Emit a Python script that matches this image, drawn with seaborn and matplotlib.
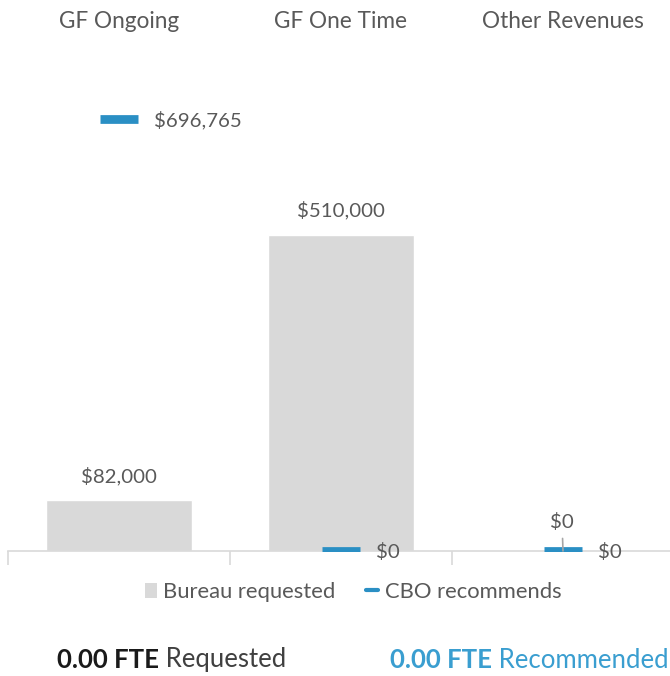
import matplotlib
matplotlib.use("Agg")
import matplotlib.pyplot as plt
from matplotlib.patches import Patch
from matplotlib.lines import Line2D
from matplotlib.transforms import blended_transform_factory
import seaborn as sns
import pandas as pd

categories = ["GF Ongoing", "GF One Time", "Other Revenues"]
bureau_requested = [82000, 510000, 0]
cbo_recommends = [696765, 0, 0]
fte_requested = "0.00"
fte_recommended = "0.00"

GRAY_BAR = "#D9D9D9"
BLUE = "#2A8FC4"
BLUE_TXT = "#3A9ED0"
TXT = "#595959"

sns.set_theme(style="white")
plt.rcParams["font.family"] = ["Lato", "DejaVu Sans"]

df = pd.DataFrame({"category": categories,
                   "bureau": bureau_requested,
                   "cbo": cbo_recommends})

fig = plt.figure(figsize=(6.7, 6.76), dpi=100)
ax = fig.add_axes([8/670, 125/676, 666/670, 491/676])

sns.barplot(data=df, x="category", y="bureau", color=GRAY_BAR, width=0.66,
            saturation=1, ax=ax, order=categories)
sns.scatterplot(data=df, x="category", y="cbo", marker="_", s=27.5**2,
                linewidth=6.3, color=BLUE, ax=ax, zorder=5, legend=False)

ax.set_xlim(-0.5, 2.5)
ax.set_ylim(0, 792000)
for s in ["top", "right", "left"]:
    ax.spines[s].set_visible(False)
ax.spines["bottom"].set_color(GRAY_BAR)
ax.spines["bottom"].set_linewidth(1.2)
ax.set_yticks([])
ax.set_xticks([])
ax.set_xticks([-0.5, 0.5, 1.5, 2.5], minor=True)
ax.tick_params(axis="x", which="minor", length=10, width=1.2, color=GRAY_BAR,
               bottom=True, labelbottom=False)
ax.set_xlabel("")
ax.set_ylabel("")

# category labels at top
tr = blended_transform_factory(ax.transData, fig.transFigure)
for i, c in enumerate(categories):
    fig.text(0, 0, c, transform=tr, fontsize=16.3, color=TXT,
             ha="center", va="center").set_position((i, 1 - 21/676))

def money(v):
    return "${:,.0f}".format(v)

VFS = 14.7
# bureau labels
for i, v in enumerate(bureau_requested):
    if v > 0:
        ax.annotate(money(v), (i, v), xytext=(0, 15), textcoords="offset pixels",
                    ha="center", va="bottom", fontsize=VFS, color=TXT)
    else:
        ax.annotate(money(v), (i, v), xytext=(-1, 20), textcoords="offset pixels",
                    ha="center", va="bottom", fontsize=VFS, color=TXT, zorder=7,
                    arrowprops=dict(arrowstyle="-", color="#A6A6A6", lw=1.2,
                                    shrinkA=3, shrinkB=0))

# cbo labels
for i, v in enumerate(cbo_recommends):
    ax.annotate(money(v), (i, v), xytext=(35, -1), textcoords="offset pixels",
                ha="left", va="center", fontsize=VFS, color=TXT)

# legend
handles = [Patch(facecolor=GRAY_BAR, edgecolor="none", label="Bureau requested"),
           Line2D([0], [0], color=BLUE, lw=3, label="CBO recommends")]
leg = fig.legend(handles=handles, loc="center", bbox_to_anchor=(353/670, 1 - 592/676),
                 ncol=2, frameon=False, fontsize=15.8, handlelength=0.55,
                 handleheight=0.65, handletextpad=0.3, columnspacing=1.4,
                 labelcolor=TXT)

# FTE text
FFS = 18.5
t1 = fig.text(57/670, 1 - 660/676, fte_requested + " FTE", fontsize=FFS,
              fontweight="bold", color="#1A1A1A", ha="left", va="center")
ax.annotate(" Requested", xy=(1, 0.5), xycoords=t1, ha="left", va="center",
            fontsize=FFS, color="#404040", annotation_clip=False)
t2 = fig.text(390/670, 1 - 660/676, fte_recommended + " FTE", fontsize=FFS,
              fontweight="bold", color=BLUE_TXT, ha="left", va="center")
ax.annotate(" Recommended", xy=(1, 0.5), xycoords=t2, ha="left", va="center",
            fontsize=FFS, color=BLUE_TXT, annotation_clip=False)

fig.savefig("out.png", dpi=100)
